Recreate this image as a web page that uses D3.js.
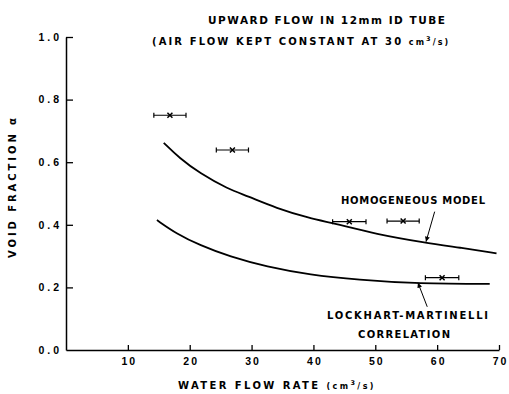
<!DOCTYPE html>
<html lang="en">
<head>
<meta charset="UTF-8">
<title>Void fraction vs water flow rate</title>
<script src="https://d3js.org/d3.v7.min.js"></script>
<style>
  * { margin: 0; padding: 0; }
  body { background: #fff; width: 509px; height: 394px; overflow: hidden; }
  svg { display: block; font-family: "DejaVu Sans", sans-serif; font-weight: bold; }
  text { fill: #000; }
</style>
</head>
<body>
<svg id="chart" width="509" height="394"></svg>
<script>
// Measured points with horizontal error bars (water flow, void fraction)
const pointX   = [16.8, 26.9, 45.8, 54.5, 60.8];
const pointY   = [0.750, 0.639, 0.410, 0.412, 0.231];
const pointErr = [2.6, 2.6, 2.7, 2.6, 2.7];

// Homogeneous model curve
const homX = [15.8, 18.4, 21.6, 26.2, 29.2, 34.0, 39.4, 43.2, 50.2, 58.0, 63.7, 69.6];
const homY = [0.662, 0.612, 0.565, 0.514, 0.493, 0.453, 0.421, 0.405, 0.370, 0.343, 0.327, 0.309];

// Lockhart-Martinelli correlation curve
const lmX = [14.7, 17.9, 21.6, 26.5, 32.4, 39.4, 47.5, 55.6, 68.5];
const lmY = [0.415, 0.371, 0.335, 0.298, 0.266, 0.240, 0.224, 0.213, 0.211];

const xTicks = [10, 20, 30, 40, 50, 60, 70];
const yTicks = [0, 0.2, 0.4, 0.6, 0.8, 1.0];

const svg = d3.select('#chart');
const x = d3.scaleLinear().domain([0, 70]).range([66, 499]);
const y = d3.scaleLinear().domain([0, 1]).range([350, 37]);

// Axes
const xAxis = svg.append('g').attr('transform', 'translate(0,350)')
  .call(d3.axisBottom(x).tickValues(xTicks).tickSizeInner(-5).tickSizeOuter(0).tickPadding(8).tickFormat(d3.format('d')));
const yAxis = svg.append('g').attr('transform', 'translate(66,0)')
  .call(d3.axisLeft(y).tickValues(yTicks).tickSizeInner(-7).tickSizeOuter(0).tickPadding(7).tickFormat(d3.format('.1f')));

[xAxis, yAxis].forEach(a => {
  a.select('.domain').attr('stroke', '#000').attr('stroke-width', 1.5);
  a.selectAll('.tick line').attr('stroke', '#000').attr('stroke-width', 1.3);
  a.selectAll('.tick text').attr('font-family', null).attr('font-size', 10.5).attr('fill', '#000');
});
xAxis.selectAll('.tick text').attr('letter-spacing', 2).attr('dx', 1);
yAxis.selectAll('.tick text').attr('letter-spacing', 3).attr('dx', 3);
yAxis.selectAll('.tick').filter(d => d === 0).select('line').remove();

// Curves
const line = d3.line().x(d => x(d[0])).y(d => y(d[1])).curve(d3.curveBasis);
svg.append('path').datum(d3.zip(homX, homY)).attr('d', line)
  .attr('fill', 'none').attr('stroke', '#000').attr('stroke-width', 1.8);
svg.append('path').datum(d3.zip(lmX, lmY)).attr('d', line)
  .attr('fill', 'none').attr('stroke', '#000').attr('stroke-width', 1.8);

// Data points with error bars
const pts = svg.append('g').attr('stroke', '#000').attr('stroke-width', 1.2)
  .selectAll('g').data(d3.range(pointX.length)).join('g');
pts.append('line')
  .attr('x1', i => x(pointX[i] - pointErr[i])).attr('x2', i => x(pointX[i] + pointErr[i]))
  .attr('y1', i => y(pointY[i])).attr('y2', i => y(pointY[i]));
[-1, 1].forEach(s => {
  pts.append('line')
    .attr('x1', i => x(pointX[i] + s * pointErr[i])).attr('x2', i => x(pointX[i] + s * pointErr[i]))
    .attr('y1', i => y(pointY[i]) - 2.5).attr('y2', i => y(pointY[i]) + 2.5);
});
pts.append('path')
  .attr('d', i => { const cx = x(pointX[i]), cy = y(pointY[i]);
    return `M${cx - 2.5},${cy - 2.5}L${cx + 2.5},${cy + 2.5}M${cx - 2.5},${cy + 2.5}L${cx + 2.5},${cy - 2.5}`; })
  .attr('stroke-width', 1.5);

// Text helper: fixed width with spacing
function label(tx, ty, str, len, size) {
  return svg.append('text').attr('x', tx).attr('y', ty).attr('font-size', size || 10)
    .attr('textLength', len).attr('lengthAdjust', 'spacing').text(str);
}

// Title
label(208, 24, 'UPWARD FLOW IN 12mm ID TUBE', 237, 10.5);
const t2 = svg.append('text').attr('x', 152).attr('y', 45).attr('font-size', 10).attr('letter-spacing', 2.1);
t2.append('tspan').text('(AIR FLOW KEPT CONSTANT AT 30 ');
t2.append('tspan').attr('font-size', 8).text('cm');
t2.append('tspan').attr('font-size', 6.5).attr('dy', -4).text('3');
t2.append('tspan').attr('font-size', 8).attr('dy', 4).text('/s)');

// Axis titles
const xt = svg.append('text').attr('x', 178).attr('y', 389).attr('font-size', 10).attr('letter-spacing', 2.4);
xt.append('tspan').text('WATER FLOW RATE ');
xt.append('tspan').attr('font-size', 8).text('(cm');
xt.append('tspan').attr('font-size', 6.5).attr('dy', -4).text('3');
xt.append('tspan').attr('font-size', 8).attr('dy', 4).text('/s)');

svg.append('text').attr('transform', 'translate(16,258) rotate(-90)')
  .attr('font-size', 10).attr('textLength', 140).attr('lengthAdjust', 'spacing')
  .text('VOID FRACTION α');

// Curve annotations
label(341, 204, 'HOMOGENEOUS MODEL', 144, 10);
label(327, 319, 'LOCKHART-MARTINELLI', 161, 10);
label(358, 338, 'CORRELATION', 92, 10);

svg.append('defs').append('marker')
  .attr('id', 'arrow').attr('viewBox', '0 -5 10 10').attr('refX', 10).attr('refY', 0)
  .attr('markerWidth', 7).attr('markerHeight', 5).attr('markerUnits', 'userSpaceOnUse').attr('orient', 'auto')
  .append('path').attr('d', 'M0,-5L10,0L0,5Z').attr('fill', '#000');

const arrows = [
  [[59.6, 0.442], [58.2, 0.346]],
  [[58.4, 0.138], [56.9, 0.215]]
];
svg.append('g').selectAll('line').data(arrows).join('line')
  .attr('x1', d => x(d[0][0])).attr('y1', d => y(d[0][1]))
  .attr('x2', d => x(d[1][0])).attr('y2', d => y(d[1][1]))
  .attr('stroke', '#000').attr('stroke-width', 1).attr('marker-end', 'url(#arrow)');
</script>
</body>
</html>
